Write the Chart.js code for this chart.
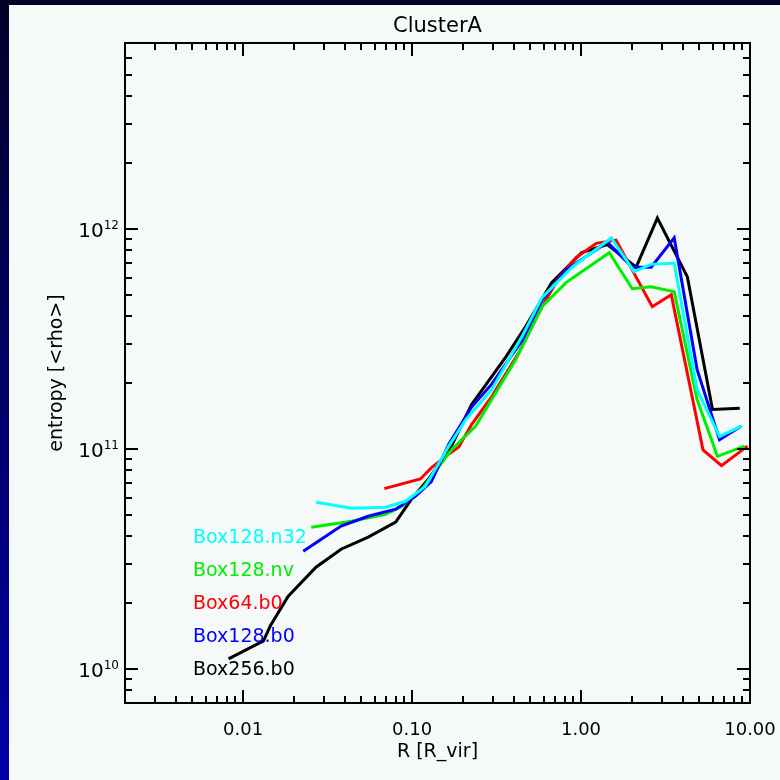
<!DOCTYPE html>
<html>
<head>
<meta charset="utf-8">
<script src="https://cdn.jsdelivr.net/npm/chart.js@4/dist/chart.umd.min.js"></script>
<style>
  html, body { margin: 0; padding: 0; background: #000030; }
  canvas { display: block; }
</style>
</head>
<body>
<canvas id="entropyChart" width="780" height="780"></canvas>
<script>
// radius [R_vir] and entropy for each run
const black256R = [0.0082, 0.0132, 0.0145, 0.0185, 0.027, 0.038, 0.055, 0.080, 0.099, 0.125, 0.17, 0.225, 0.36, 0.47, 0.67, 1.01, 1.43, 2.12, 2.83, 4.26, 6.0, 8.7];
const black256S = [1.11e10, 1.34e10, 1.57e10, 2.14e10, 2.9e10, 3.5e10, 3.97e10, 4.65e10, 5.9e10, 7.3e10, 1.02e11, 1.59e11, 2.63e11, 3.6e11, 5.7e11, 7.8e11, 8.5e11, 6.7e11, 1.12e12, 6.05e11, 1.51e11, 1.53e11];

const blue128R = [0.0227, 0.038, 0.055, 0.080, 0.105, 0.130, 0.165, 0.225, 0.296, 0.447, 0.587, 0.815, 1.43, 2.01, 2.6, 3.56, 4.86, 6.6, 8.9];
const blue128S = [3.43e10, 4.46e10, 4.94e10, 5.32e10, 6.1e10, 7.1e10, 1.05e11, 1.55e11, 1.97e11, 3.1e11, 4.75e11, 6.5e11, 8.7e11, 6.7e11, 6.7e11, 9.1e11, 2.3e11, 1.1e11, 1.27e11];

const red64R = [0.0685, 0.112, 0.130, 0.158, 0.189, 0.225, 0.296, 0.429, 0.587, 0.74, 0.934, 1.23, 1.61, 2.64, 3.42, 5.27, 6.78, 9.66];
const red64S = [6.6e10, 7.3e10, 8.2e10, 9.25e10, 1.02e11, 1.29e11, 1.73e11, 2.74e11, 4.43e11, 6.0e11, 7.4e11, 8.6e11, 8.9e11, 4.43e11, 5.02e11, 9.9e10, 8.4e10, 1.03e11];

const greenNvR = [0.0253, 0.0438, 0.0697, 0.0867, 0.114, 0.172, 0.238, 0.411, 0.587, 0.815, 1.47, 2.01, 2.6, 3.56, 4.86, 6.41, 9.28];
const greenNvS = [4.41e10, 4.69e10, 5.05e10, 5.48e10, 6.55e10, 9.95e10, 1.27e11, 2.55e11, 4.43e11, 5.7e11, 7.8e11, 5.35e11, 5.46e11, 5.18e11, 1.68e11, 9.25e10, 1.03e11];

const cyanN32R = [0.0271, 0.0438, 0.0697, 0.0915, 0.120, 0.165, 0.208, 0.296, 0.447, 0.587, 0.885, 1.51, 2.06, 2.6, 3.56, 4.86, 6.6, 8.9];
const cyanN32S = [5.72e10, 5.37e10, 5.43e10, 5.78e10, 6.76e10, 1.03e11, 1.36e11, 1.86e11, 3.24e11, 4.87e11, 6.7e11, 9.1e11, 6.4e11, 6.9e11, 7.0e11, 1.86e11, 1.14e11, 1.27e11];

const runNames = ['Box128.n32', 'Box128.nv', 'Box64.b0', 'Box128.b0', 'Box256.b0'];
const runColors = ['#00ffff', '#00ee00', '#ff0000', '#0000ff', '#000000'];

const xMajorTicks = [0.01, 0.1, 1, 10];
const xTickLabels = ['0.01', '0.10', '1.00', '10.00'];
const yMajorTicks = [1e10, 1e11, 1e12];
const yTickPowers = ['10', '11', '12'];

const FONT = '"DejaVu Sans", sans-serif';

const toPoints = (rs, ss) => rs.map((r, i) => ({ x: r, y: ss[i] }));
const runData = [
    toPoints(cyanN32R, cyanN32S),
    toPoints(greenNvR, greenNvS),
    toPoints(red64R, red64S),
    toPoints(blue128R, blue128S),
    toPoints(black256R, black256S)
];

// draw order: black at the bottom, cyan on top
const drawOrder = [0, 2, 3, 1, 4];

const idlFrame = {
    id: 'idlFrame',
    beforeDraw(chart) {
        const ctx = chart.ctx;
        const g = ctx.createLinearGradient(0, 0, 0, 780);
        g.addColorStop(0, '#000028');
        g.addColorStop(1, '#0000a8');
        ctx.save();
        ctx.fillStyle = g;
        ctx.fillRect(0, 0, 780, 780);
        ctx.fillStyle = '#f5faf8';
        ctx.fillRect(9, 5, 771, 775);
        ctx.restore();
    },
    afterDatasetsDraw(chart) {
        const ctx = chart.ctx;
        const a = chart.chartArea;
        const xs = chart.scales.x, ys = chart.scales.y;
        ctx.save();
        ctx.strokeStyle = '#000';
        ctx.lineWidth = 2;
        ctx.strokeRect(a.left, a.top, a.right - a.left, a.bottom - a.top);

        const tick = (x1, y1, x2, y2) => {
            ctx.beginPath(); ctx.moveTo(x1, y1); ctx.lineTo(x2, y2); ctx.stroke();
        };
        // x ticks, bottom and top
        for (let e = -3; e <= 1; e++) {
            for (let m = 1; m <= 9; m++) {
                const v = m * Math.pow(10, e);
                if (v < xs.min * 0.999 || v > xs.max * 1.001) continue;
                const px = Math.round(xs.getPixelForValue(v));
                const len = m === 1 ? 13 : 7;
                tick(px, a.bottom, px, a.bottom - len);
                tick(px, a.top, px, a.top + len);
            }
        }
        // y ticks, left and right
        for (let e = 9; e <= 12; e++) {
            for (let m = 1; m <= 9; m++) {
                const v = m * Math.pow(10, e);
                if (v < ys.min * 0.999 || v > ys.max * 1.001) continue;
                const py = Math.round(ys.getPixelForValue(v));
                const len = m === 1 ? 13 : 7;
                tick(a.left, py, a.left + len, py);
                tick(a.right, py, a.right - len, py);
            }
        }

        ctx.fillStyle = '#000';
        // x tick labels
        ctx.font = '18px ' + FONT;
        ctx.textAlign = 'center';
        ctx.textBaseline = 'alphabetic';
        xMajorTicks.forEach((v, i) => {
            ctx.fillText(xTickLabels[i], xs.getPixelForValue(v), 735);
        });
        // y tick labels 10^n
        yMajorTicks.forEach((v, i) => {
            const py = ys.getPixelForValue(v);
            ctx.font = '12px ' + FONT;
            ctx.textAlign = 'right';
            const supW = ctx.measureText(yTickPowers[i]).width;
            ctx.fillText(yTickPowers[i], 119, py);
            ctx.font = '20px ' + FONT;
            ctx.fillText('10', 119 - supW, py + 8);
        });

        // title and axis titles
        const cx = (a.left + a.right) / 2;
        ctx.textAlign = 'center';
        ctx.font = '21px ' + FONT;
        ctx.fillText('ClusterA', cx, 32);
        ctx.font = '19px ' + FONT;
        ctx.fillText('R [R_vir]', cx, 757);
        ctx.save();
        ctx.translate(57, (a.top + a.bottom) / 2);
        ctx.rotate(-Math.PI / 2);
        ctx.textBaseline = 'middle';
        ctx.fillText('entropy [<rho>]', 0, 0);
        ctx.restore();

        // run labels inside the plot
        ctx.textAlign = 'left';
        ctx.textBaseline = 'alphabetic';
        ctx.font = '19px ' + FONT;
        runNames.forEach((name, i) => {
            ctx.fillStyle = runColors[i];
            ctx.fillText(name, 193, 543 + 33 * i);
        });
        ctx.restore();
    }
};

const ctx = document.getElementById('entropyChart').getContext('2d');
new Chart(ctx, {
    type: 'line',
    data: {
        datasets: runNames.map((name, i) => ({
            label: name,
            data: runData[i],
            borderColor: runColors[i],
            borderWidth: 3,
            pointRadius: 0,
            tension: 0,
            fill: false,
            order: drawOrder[i]
        }))
    },
    options: {
        responsive: false,
        animation: false,
        layout: { padding: { left: 125, right: 30, top: 43, bottom: 77 } },
        scales: {
            x: { type: 'logarithmic', min: 0.002, max: 10, display: false },
            y: { type: 'logarithmic', min: 7e9, max: 7e12, display: false }
        },
        plugins: {
            legend: { display: false },
            tooltip: { enabled: false }
        }
    },
    plugins: [idlFrame]
});
</script>
</body>
</html>
